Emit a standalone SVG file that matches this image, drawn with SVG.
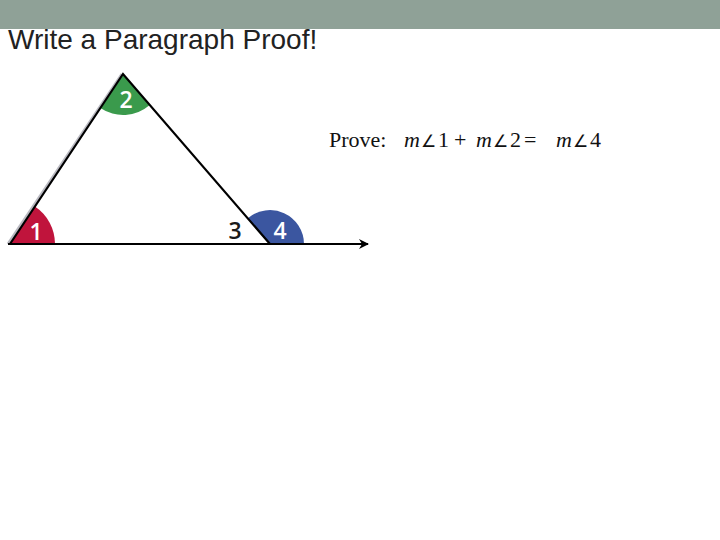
<svg xmlns="http://www.w3.org/2000/svg" width="720" height="540" viewBox="0 0 720 540">
<style>
.num{font-family:"Open Sans","Liberation Sans",sans-serif;font-size:23px;font-weight:600;text-anchor:middle}
.w{fill:#ffffff}
.k{fill:#1a1a1a}
.line{stroke:#000;stroke-width:2.2;fill:none}
.prove{font-family:"Liberation Serif",serif;font-size:22px;fill:#111}
.ang{font-size:17px}
</style>
<defs>
<marker id="ah" markerWidth="10" markerHeight="10" refX="9" refY="5" orient="auto" markerUnits="userSpaceOnUse">
<path d="M0,0 L10,5 L0,10 L3,5 Z" fill="#000"/>
</marker>
</defs>
<rect x="0" y="0" width="720" height="540" fill="#ffffff"/>
<rect x="0" y="0" width="720" height="29" fill="#8fa197"/>
<text x="8" y="49" font-family="Liberation Sans, Arial, sans-serif" font-size="28" fill="#222">Write a Paragraph Proof!</text>
<g id="angle1"><path d="M10,244 L55,244 A45,45 0 0 0 34.9,206.5 Z" fill="#c0143c"/><text class="num w" x="36" y="240">1</text></g>
<g id="angle2"><path d="M123,74 L100.3,108.1 A41,41 0 0 0 149.8,105 Z" fill="#3a9a4c"/><text class="num w" x="126" y="108">2</text></g>
<g id="angle4"><path d="M270,244 L304,244 A34,34 0 0 0 247.8,218.3 Z" fill="#3b56a0"/><text class="num w" x="280" y="239">4</text></g>
<g id="angle3"><text class="num k" x="235" y="239">3</text></g>
<g id="connectors">
<line x1="8" y1="244" x2="122" y2="74" stroke="#b8b8c0" stroke-width="3"/>
<polyline class="line" points="10,244 123,74 270,244"/>
<line class="line" x1="8" y1="244" x2="368" y2="244" marker-end="url(#ah)"/>
</g>
<g id="prove">
<text class="prove" x="329" y="147">Prove:<tspan x="404" font-style="italic">m</tspan><tspan x="421" class="ang">∠</tspan><tspan x="438">1</tspan><tspan x="454">+</tspan><tspan x="476" font-style="italic">m</tspan><tspan x="493" class="ang">∠</tspan><tspan x="510">2</tspan><tspan x="524">=</tspan><tspan x="556" font-style="italic">m</tspan><tspan x="573" class="ang">∠</tspan><tspan x="590">4</tspan></text>
</g>
</svg>
